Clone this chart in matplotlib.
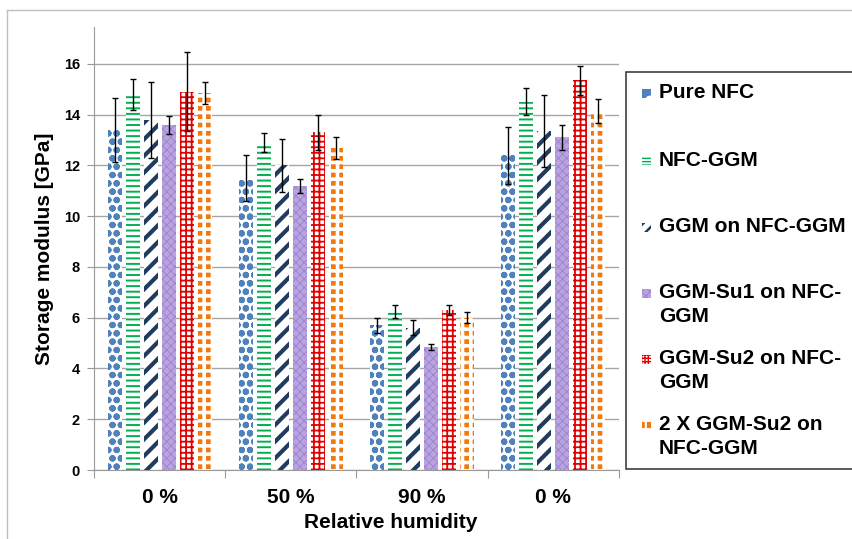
import numpy as np
import matplotlib
matplotlib.use("Agg")
import matplotlib.pyplot as plt
from matplotlib.patches import Rectangle
from matplotlib.lines import Line2D

plt.rcParams['font.family'] = ['Liberation Sans', 'DejaVu Sans']
plt.rcParams['font.weight'] = 'bold'

# data
groups = ['0 %', '50 %', '90 %', '0 %']
series = ['Pure NFC', 'NFC-GGM', 'GGM on NFC-GGM', 'GGM-Su1 on NFC-\nGGM',
          'GGM-Su2 on NFC-\nGGM', '2 X GGM-Su2 on\nNFC-GGM']
pure_nfc = [13.4, 11.5, 5.7, 12.4]
pure_nfc_err = [1.25, 0.9, 0.3, 1.13]
nfc_ggm = [14.8, 12.9, 6.25, 14.5]
nfc_ggm_err = [0.62, 0.37, 0.26, 0.53]
ggm_on = [13.8, 12.0, 5.6, 13.35]
ggm_on_err = [1.5, 1.04, 0.3, 1.43]
su1 = [13.6, 11.2, 4.83, 13.1]
su1_err = [0.36, 0.28, 0.12, 0.5]
su2 = [14.9, 13.3, 6.3, 15.35]
su2_err = [1.55, 0.7, 0.2, 0.57]
su2x2 = [14.85, 12.7, 6.0, 14.15]
su2x2_err = [0.45, 0.43, 0.22, 0.48]

values = [pure_nfc, nfc_ggm, ggm_on, su1, su2, su2x2]
errors = [pure_nfc_err, nfc_ggm_err, ggm_on_err, su1_err, su2_err, su2x2_err]

# (facecolor, hatch color, hatch, hatch linewidth)
styles = [
    ('white', '#4F81BD', 'oo', 2.2),
    ('white', '#00B050', '---', 1.4),
    ('white', '#1F3B5E', '//', 3.0),
    ('#B9A4DE', '#9B7FD2', 'xxxx', 0.6),
    ('white', '#E00000', '+++', 1.3),
    ('#F07A10', 'white', '++', 2.6),
]
# simpler patterns for the small legend keys
key_styles = [
    ('#4F81BD', 'white', 'o', 1.5),
    ('white', '#00B050', '-----', 1.0),
    ('white', '#1F3B5E', '///', 1.8),
    ('#B9A4DE', '#9B7FD2', 'xxxx', 0.6),
    ('white', '#E00000', '+++++', 1.0),
    ('#F07A10', 'white', '++', 1.5),
]

fig = plt.figure(figsize=(8.53, 5.39), dpi=100)
W, H = 853, 539

# outer chart border
fig.add_artist(Line2D([7 / W, 7 / W], [0, 1 - 10 / H], color='#BFBFBF', lw=1))
fig.add_artist(Line2D([7 / W, 1], [1 - 10 / H, 1 - 10 / H], color='#BFBFBF', lw=1))

ax = fig.add_axes([94 / W, 1 - 470 / H, (619 - 94) / W, (470 - 27) / H])

x = np.arange(len(groups)) + 0.5
step = 0.137
width = 0.107
for i, (vals, errs) in enumerate(zip(values, errors)):
    fc, hc, hatch, hlw = styles[i]
    pos = x + (i - 2.5) * step
    with plt.rc_context({'hatch.linewidth': hlw}):
        ax.bar(pos, vals, width, facecolor=fc, edgecolor=hc, hatch=hatch,
               linewidth=0, zorder=2)
    ax.errorbar(pos, vals, yerr=errs, fmt='none', ecolor='black',
                elinewidth=1, capsize=2.5, capthick=1, zorder=3)

ax.set_xlim(0, 4)
ax.set_ylim(0, 17.45)
ax.set_yticks(np.arange(0, 17, 2))
ax.yaxis.grid(True, color='#A6A6A6', lw=1, zorder=0)
ax.set_axisbelow(True)
ax.set_xticks([0, 1, 2, 3, 4])
ax.set_xticklabels([])
ax.set_xticks(x, minor=True)
ax.set_xticklabels(groups, minor=True, fontsize=15, fontweight='bold')
ax.tick_params(axis='x', which='minor', length=0, pad=13)
ax.tick_params(axis='x', which='major', length=6, color='#999999', direction='out')
ax.tick_params(axis='y', length=5, color='#999999', labelsize=10.5, pad=5)
for lab in ax.get_yticklabels():
    lab.set_fontweight('bold')
for s in ['top', 'right']:
    ax.spines[s].set_visible(False)
ax.spines['left'].set_color('#999999')
ax.spines['bottom'].set_color('#999999')

ax.set_xlabel('Relative humidity', fontsize=15, fontweight='bold')
ax.xaxis.set_label_coords((391 - 94) / (619 - 94), -43 / (470 - 27))
ax.set_ylabel('Storage modulus [GPa]', fontsize=15, fontweight='bold', labelpad=7)

# legend box
fig.add_artist(Rectangle((626 / W, 1 - 469 / H), 1, (469 - 72) / H, transform=fig.transFigure,
                         facecolor='white', edgecolor='#404040', lw=1.2))
entry_y = [93, 160, 227, 293, 359, 425]
for i, name in enumerate(series):
    fc, hc, hatch, hlw = key_styles[i]
    yc = entry_y[i]
    with plt.rc_context({'hatch.linewidth': hlw}):
        fig.add_artist(Rectangle((642 / W, 1 - (yc + 5) / H), 9 / W, 9 / H,
                                 transform=fig.transFigure, facecolor=fc,
                                 edgecolor=hc, hatch=hatch, lw=0))
    for j, line in enumerate(name.split('\n')):
        fig.text(659 / W, 1 - (yc + 24 * j) / H, line, fontsize=15,
                 fontweight='bold', va='center', ha='left')

fig.savefig('out.png', dpi=100)
